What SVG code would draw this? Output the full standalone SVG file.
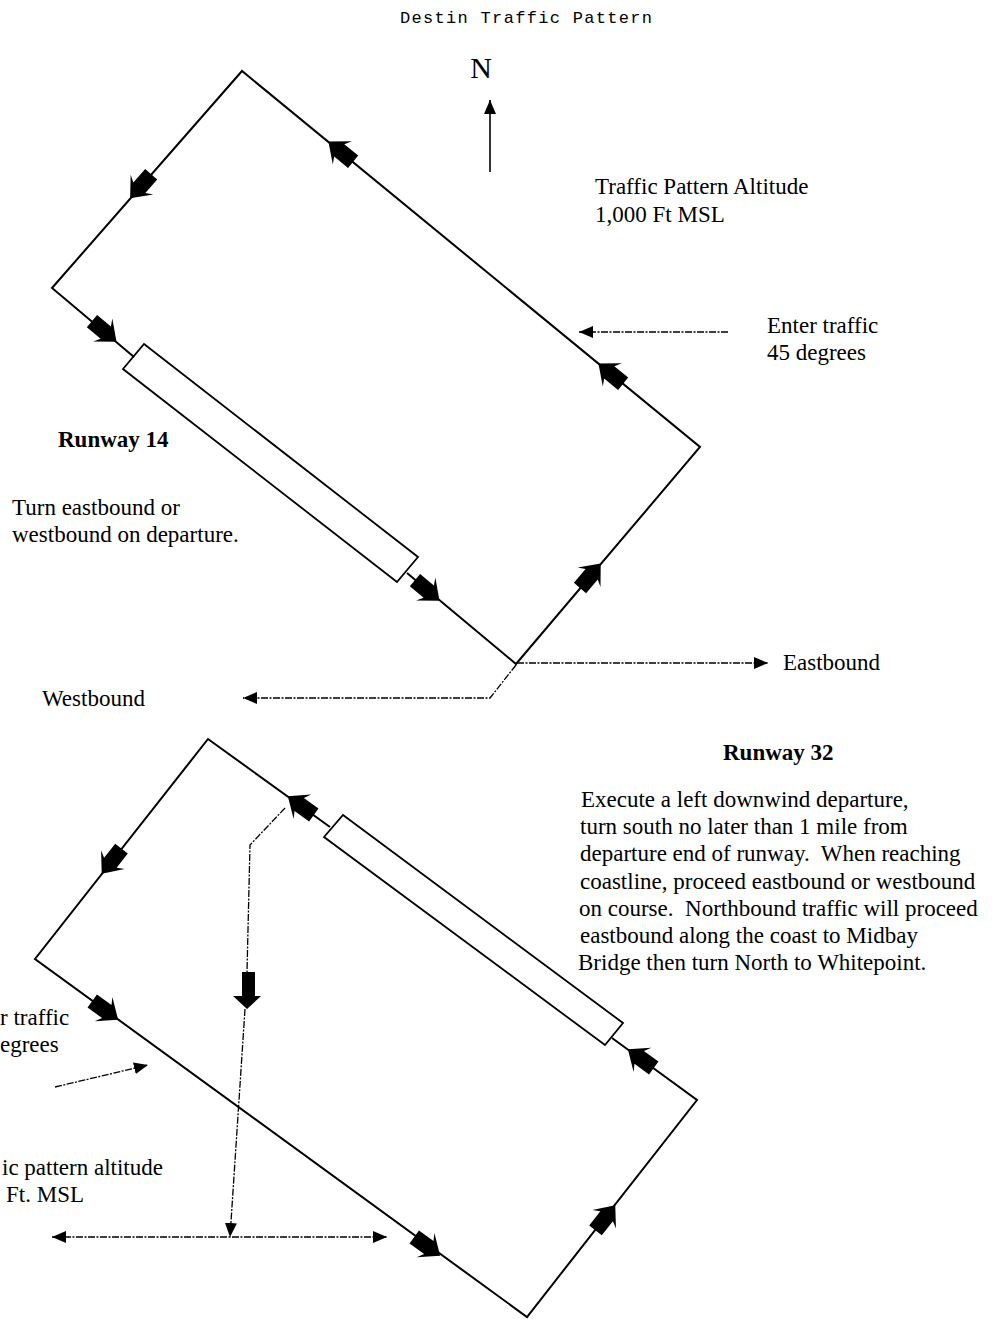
<svg xmlns="http://www.w3.org/2000/svg" width="993" height="1319" viewBox="0 0 993 1319">
<style>
.t{font-family:"Liberation Serif","Times New Roman",serif;font-size:23px;fill:#000}
.b{font-weight:bold}
.title{font-family:"Liberation Mono","Courier New",monospace;font-size:17px;fill:#000}
.pat{fill:none;stroke:#000;stroke-width:2;stroke-linejoin:miter}
.rw{fill:#fff;stroke:#000;stroke-width:1.8}
.dash{fill:none;stroke:#000;stroke-width:1.3;stroke-dasharray:7 1.5 2 1.5}
.solid{fill:none;stroke:#000;stroke-width:1.6}
.fa{fill:#000;stroke:none}
</style>
<defs>
<path id="pa" d="M-17,-8 L1,-8 L-3,-15 L15,0 L-3,15 L1,8 L-17,8 Z"/>
<marker id="ah" viewBox="0 0 14 12" refX="14" refY="6" markerWidth="14" markerHeight="12" markerUnits="userSpaceOnUse" orient="auto-start-reverse">
<path d="M0,0 L14,6 L0,12 Z" fill="#000"/>
</marker>
</defs>
<rect width="993" height="1319" fill="#fff"/>

<g id="title">
<text class="title" x="400" y="23" textLength="252">Destin Traffic Pattern</text>
</g>

<g id="north">
<text class="t" x="481" y="78" text-anchor="middle" style="font-size:30px">N</text>
</g>

<g id="runway14">
<polygon class="rw" points="144,344 418,557 397,582 123,369"/>
</g>
<g id="runway32">
<polygon class="rw" points="343,815 623,1023 605,1045 324,837"/>
</g>

<g id="connectors">
<!-- top traffic pattern -->
<polyline class="pat" points="134,357 52,288 242,71 700,447 516,664 407,573"/>
<!-- bottom traffic pattern -->
<polyline class="pat" points="330,827 208,739 35,959 527,1317 697,1100 612,1038"/>
<!-- north arrow -->
<line class="solid" x1="490" y1="172" x2="490" y2="100" marker-end="url(#ah)"/>
<!-- top entry -->
<line class="dash" x1="728" y1="332" x2="579" y2="332" marker-end="url(#ah)"/>
<!-- eastbound / westbound -->
<polyline class="dash" points="517,663 768,663" marker-end="url(#ah)"/>
<polyline class="dash" points="516,665 490,698 243,698" marker-end="url(#ah)"/>
<!-- runway 32 departure -->
<polyline class="dash" points="285,808 250,845 247,972"/>
<path class="fa" d="M242,972 L255,972 L255,996 L261,996 L247,1009 L233,996 L242,996 Z"/>
<line class="dash" x1="245" y1="1009" x2="230" y2="1237" marker-end="url(#ah)"/>
<line class="dash" x1="52" y1="1237" x2="387" y2="1237" marker-start="url(#ah)" marker-end="url(#ah)"/>
<!-- bottom entry -->
<line class="dash" x1="55" y1="1087" x2="148" y2="1065" marker-end="url(#ah)"/>
<!-- direction arrows top pattern -->
<use href="#pa" class="fa" transform="translate(140,187) rotate(131.2)"/>
<use href="#pa" class="fa" transform="translate(340,151) rotate(-140.6)"/>
<use href="#pa" class="fa" transform="translate(105,332) rotate(40)"/>
<use href="#pa" class="fa" transform="translate(428,591) rotate(40)"/>
<use href="#pa" class="fa" transform="translate(591,575) rotate(-49.7)"/>
<use href="#pa" class="fa" transform="translate(610,373) rotate(-140.6)"/>
<!-- direction arrows bottom pattern -->
<use href="#pa" class="fa" transform="translate(300,805) rotate(-144.2)"/>
<use href="#pa" class="fa" transform="translate(111,862) rotate(128.2)"/>
<use href="#pa" class="fa" transform="translate(106,1011) rotate(36)"/>
<use href="#pa" class="fa" transform="translate(428,1247) rotate(36)"/>
<use href="#pa" class="fa" transform="translate(606,1217) rotate(-51.9)"/>
<use href="#pa" class="fa" transform="translate(640,1058) rotate(-143.9)"/>
</g>

<g id="label-tpa-top">
<text class="t" x="595" y="194">Traffic Pattern Altitude</text>
<text class="t" x="595" y="222">1,000 Ft MSL</text>
</g>
<g id="label-enter-top">
<text class="t" x="767" y="333">Enter traffic</text>
<text class="t" x="767" y="360">45 degrees</text>
</g>
<g id="label-rwy14">
<text class="t b" x="58" y="447">Runway 14</text>
<text class="t" x="12" y="515">Turn eastbound or</text>
<text class="t" x="12" y="542">westbound on departure.</text>
</g>
<g id="label-westbound">
<text class="t" x="42" y="706">Westbound</text>
</g>
<g id="label-eastbound">
<text class="t" x="783" y="670">Eastbound</text>
</g>
<g id="label-rwy32">
<text class="t b" x="723" y="760">Runway 32</text>
<text class="t" x="581" y="807">Execute a left downwind departure,</text>
<text class="t" x="580" y="834">turn south no later than 1 mile from</text>
<text class="t" x="580" y="861" xml:space="preserve">departure end of runway.  When reaching</text>
<text class="t" x="580" y="889">coastline, proceed eastbound or westbound</text>
<text class="t" x="579" y="916" xml:space="preserve">on course.  Northbound traffic will proceed</text>
<text class="t" x="580" y="943">eastbound along the coast to Midbay</text>
<text class="t" x="578" y="970">Bridge then turn North to Whitepoint.</text>
</g>
<g id="label-enter-bottom">
<text class="t" x="0" y="1025">r traffic</text>
<text class="t" x="0" y="1052">egrees</text>
</g>
<g id="label-tpa-bottom">
<text class="t" x="2" y="1175">ic pattern altitude</text>
<text class="t" x="6" y="1202">Ft. MSL</text>
</g>
</svg>
